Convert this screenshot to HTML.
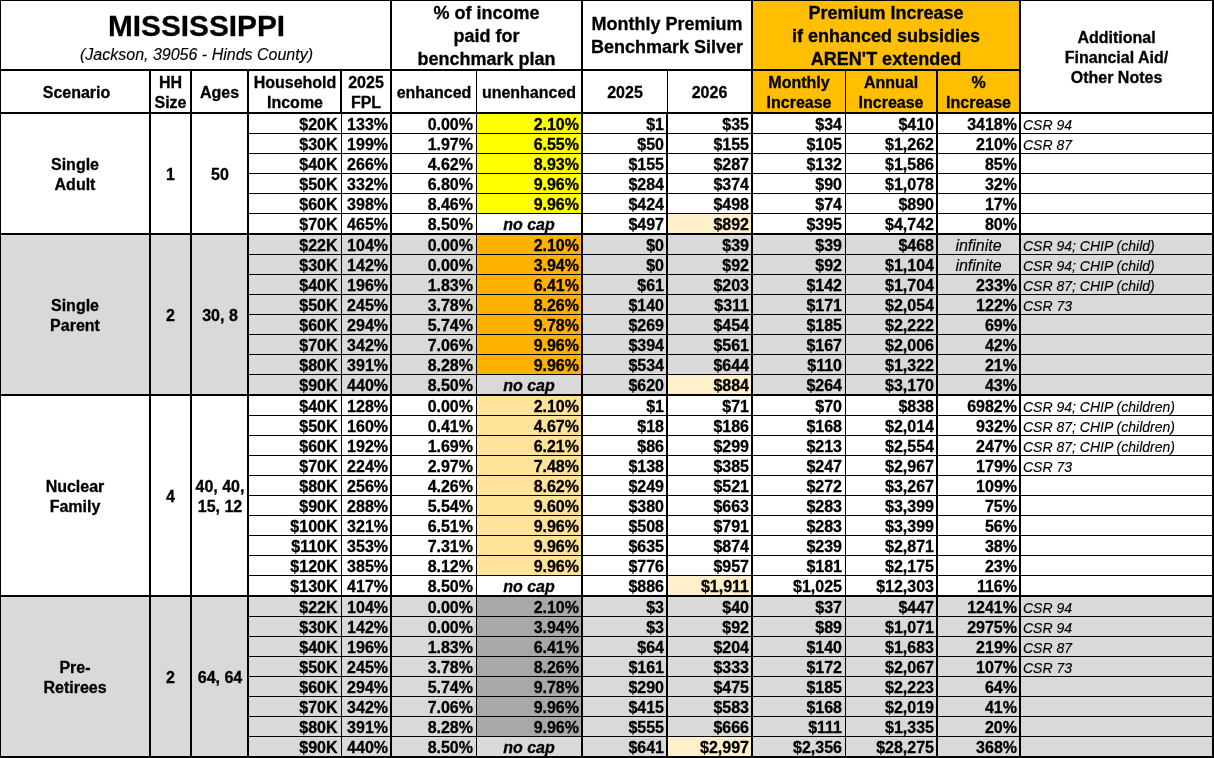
<!DOCTYPE html>
<html><head><meta charset="utf-8"><title>Mississippi</title><style>
html,body{margin:0;padding:0;background:#fff;}
body{width:1214px;height:758px;position:relative;overflow:hidden;font-family:"Liberation Sans",sans-serif;color:#000;}
#w{position:absolute;left:0;top:0;width:1214px;height:758px;will-change:transform;}
#w>div{position:absolute;box-sizing:border-box;}
.ln{background:#000;}
.t{-webkit-text-stroke:0.3px #000;display:flex;flex-direction:column;justify-content:center;font-weight:bold;}
.c{text-align:center;align-items:center;}
.title{font-size:29.8px;line-height:32px;font-weight:bold;}
.sub{-webkit-text-stroke:0.15px #000;font-size:16px;line-height:20px;margin-top:3px;font-style:italic;font-weight:normal;}
.h18{font-size:18px;line-height:23px;}
.h17{font-size:16px;line-height:20px;}
.h16{font-size:16px;line-height:20px;}
.d{font-size:16px;line-height:20px;white-space:nowrap;overflow:visible;}
.num{-webkit-text-stroke:0.3px #000;font-weight:bold;text-align:right;padding-right:2px;}
.nocap{-webkit-text-stroke:0.3px #000;font-weight:bold;font-style:italic;text-align:center;}
.inf{-webkit-text-stroke:0.15px #000;font-style:italic;text-align:center;}
.note{-webkit-text-stroke:0.15px #000;font-style:italic;font-size:14px;padding-left:2px;}
</style></head><body>
<div id="w">
<div style="left:752px;top:0px;width:268px;height:113px;background:#ffbf00"></div>
<div style="left:477px;top:114px;width:105px;height:99px;background:#ffff00"></div>
<div style="left:668px;top:214px;width:84px;height:19px;background:#fff0cb"></div>
<div style="left:0px;top:235px;width:1214px;height:159px;background:#d9d9d9"></div>
<div style="left:477px;top:235px;width:105px;height:139px;background:#ffb100"></div>
<div style="left:668px;top:375px;width:84px;height:19px;background:#fff0cb"></div>
<div style="left:477px;top:396px;width:105px;height:179px;background:#ffe398"></div>
<div style="left:668px;top:576px;width:84px;height:19px;background:#fff0cb"></div>
<div style="left:0px;top:597px;width:1214px;height:159px;background:#d9d9d9"></div>
<div style="left:477px;top:597px;width:105px;height:139px;background:#a8a8a8"></div>
<div style="left:668px;top:737px;width:84px;height:19px;background:#fff0cb"></div>
<div class="t c" style="left:2px;top:1px;width:389px;height:68px;padding-top:5px"><div class="title">MISSISSIPPI</div><div class="sub">(Jackson, 39056 - Hinds County)</div></div>
<div class="t c h18" style="left:392px;top:2px;width:189px;height:67px;padding-top:2px">% of income<br>paid for<br>benchmark plan</div>
<div class="t c h18" style="left:583px;top:2px;width:168px;height:67px;">Monthly Premium<br>Benchmark Silver</div>
<div class="t c h18" style="left:753px;top:2px;width:266px;height:67px;padding-top:2px">Premium Increase<br>if enhanced subsidies<br>AREN'T extended</div>
<div class="t c h16" style="left:1021px;top:2px;width:191px;height:110px;padding-top:2px">Additional<br>Financial Aid/<br>Other Notes</div>
<div class="t c h17" style="left:2px;top:71px;width:149px;height:41px;padding-top:2px">Scenario</div>
<div class="t c h17" style="left:151px;top:71px;width:39px;height:41px;padding-top:2px">HH<br>Size</div>
<div class="t c h17" style="left:192px;top:71px;width:55px;height:41px;padding-top:2px">Ages</div>
<div class="t c h17" style="left:249px;top:71px;width:92px;height:41px;padding-top:2px">Household<br>Income</div>
<div class="t c h17" style="left:342px;top:71px;width:48px;height:41px;padding-top:2px">2025<br>FPL</div>
<div class="t c h17" style="left:392px;top:71px;width:84px;height:41px;padding-top:2px">enhanced</div>
<div class="t c h17" style="left:477px;top:71px;width:104px;height:41px;padding-top:2px">unenhanced</div>
<div class="t c h17" style="left:583px;top:71px;width:84px;height:41px;padding-top:2px">2025</div>
<div class="t c h17" style="left:668px;top:71px;width:83px;height:41px;padding-top:2px">2026</div>
<div class="t c h17" style="left:753px;top:71px;width:92px;height:41px;padding-top:2px">Monthly<br>Increase</div>
<div class="t c h17" style="left:846px;top:71px;width:90px;height:41px;padding-top:2px">Annual<br>Increase</div>
<div class="t c h17" style="left:938px;top:71px;width:81px;height:41px;padding-top:2px">%<br>Increase</div>
<div class="t c h16" style="left:1px;top:114px;width:148px;height:119px;padding-top:2px">Single<br>Adult</div>
<div class="t c h16" style="left:151px;top:114px;width:39px;height:119px;padding-top:2px">1</div>
<div class="t c h16" style="left:192px;top:114px;width:56px;height:119px;padding-top:2px">50</div>
<div class="t c h16" style="left:1px;top:235px;width:148px;height:159px;padding-top:2px">Single<br>Parent</div>
<div class="t c h16" style="left:151px;top:235px;width:39px;height:159px;padding-top:2px">2</div>
<div class="t c h16" style="left:192px;top:235px;width:56px;height:159px;padding-top:2px">30, 8</div>
<div class="t c h16" style="left:1px;top:396px;width:148px;height:199px;padding-top:2px">Nuclear<br>Family</div>
<div class="t c h16" style="left:151px;top:396px;width:39px;height:199px;padding-top:2px">4</div>
<div class="t c h16" style="left:192px;top:396px;width:56px;height:199px;padding-top:2px">40, 40,<br>15, 12</div>
<div class="t c h16" style="left:1px;top:597px;width:148px;height:159px;padding-top:2px">Pre-<br>Retirees</div>
<div class="t c h16" style="left:151px;top:597px;width:39px;height:159px;padding-top:2px">2</div>
<div class="t c h16" style="left:192px;top:597px;width:56px;height:159px;padding-top:2px">64, 64</div>
<div class="d num" style="left:249px;top:115px;width:92px;height:20px;padding-right:3.5px">$20K</div>
<div class="d num" style="left:342px;top:115px;width:48px;height:20px;padding-right:2px">133%</div>
<div class="d num" style="left:392px;top:115px;width:84px;height:20px;padding-right:3px">0.00%</div>
<div class="d num" style="left:477px;top:115px;width:104px;height:20px;padding-right:2px">2.10%</div>
<div class="d num" style="left:583px;top:115px;width:83px;height:20px;padding-right:2px">$1</div>
<div class="d num" style="left:668px;top:115px;width:83px;height:20px;padding-right:2px">$35</div>
<div class="d num" style="left:753px;top:115px;width:92px;height:20px;padding-right:3px">$34</div>
<div class="d num" style="left:846px;top:115px;width:90px;height:20px;padding-right:2px">$410</div>
<div class="d num" style="left:938px;top:115px;width:81px;height:20px;padding-right:2px">3418%</div>
<div class="d note" style="left:1021px;top:115px;width:190px;height:20px;">CSR 94</div>
<div class="d num" style="left:249px;top:135px;width:92px;height:20px;padding-right:3.5px">$30K</div>
<div class="d num" style="left:342px;top:135px;width:48px;height:20px;padding-right:2px">199%</div>
<div class="d num" style="left:392px;top:135px;width:84px;height:20px;padding-right:3px">1.97%</div>
<div class="d num" style="left:477px;top:135px;width:104px;height:20px;padding-right:2px">6.55%</div>
<div class="d num" style="left:583px;top:135px;width:83px;height:20px;padding-right:2px">$50</div>
<div class="d num" style="left:668px;top:135px;width:83px;height:20px;padding-right:2px">$155</div>
<div class="d num" style="left:753px;top:135px;width:92px;height:20px;padding-right:3px">$105</div>
<div class="d num" style="left:846px;top:135px;width:90px;height:20px;padding-right:2px">$1,262</div>
<div class="d num" style="left:938px;top:135px;width:81px;height:20px;padding-right:2px">210%</div>
<div class="d note" style="left:1021px;top:135px;width:190px;height:20px;">CSR 87</div>
<div class="d num" style="left:249px;top:155px;width:92px;height:20px;padding-right:3.5px">$40K</div>
<div class="d num" style="left:342px;top:155px;width:48px;height:20px;padding-right:2px">266%</div>
<div class="d num" style="left:392px;top:155px;width:84px;height:20px;padding-right:3px">4.62%</div>
<div class="d num" style="left:477px;top:155px;width:104px;height:20px;padding-right:2px">8.93%</div>
<div class="d num" style="left:583px;top:155px;width:83px;height:20px;padding-right:2px">$155</div>
<div class="d num" style="left:668px;top:155px;width:83px;height:20px;padding-right:2px">$287</div>
<div class="d num" style="left:753px;top:155px;width:92px;height:20px;padding-right:3px">$132</div>
<div class="d num" style="left:846px;top:155px;width:90px;height:20px;padding-right:2px">$1,586</div>
<div class="d num" style="left:938px;top:155px;width:81px;height:20px;padding-right:2px">85%</div>
<div class="d num" style="left:249px;top:175px;width:92px;height:20px;padding-right:3.5px">$50K</div>
<div class="d num" style="left:342px;top:175px;width:48px;height:20px;padding-right:2px">332%</div>
<div class="d num" style="left:392px;top:175px;width:84px;height:20px;padding-right:3px">6.80%</div>
<div class="d num" style="left:477px;top:175px;width:104px;height:20px;padding-right:2px">9.96%</div>
<div class="d num" style="left:583px;top:175px;width:83px;height:20px;padding-right:2px">$284</div>
<div class="d num" style="left:668px;top:175px;width:83px;height:20px;padding-right:2px">$374</div>
<div class="d num" style="left:753px;top:175px;width:92px;height:20px;padding-right:3px">$90</div>
<div class="d num" style="left:846px;top:175px;width:90px;height:20px;padding-right:2px">$1,078</div>
<div class="d num" style="left:938px;top:175px;width:81px;height:20px;padding-right:2px">32%</div>
<div class="d num" style="left:249px;top:195px;width:92px;height:20px;padding-right:3.5px">$60K</div>
<div class="d num" style="left:342px;top:195px;width:48px;height:20px;padding-right:2px">398%</div>
<div class="d num" style="left:392px;top:195px;width:84px;height:20px;padding-right:3px">8.46%</div>
<div class="d num" style="left:477px;top:195px;width:104px;height:20px;padding-right:2px">9.96%</div>
<div class="d num" style="left:583px;top:195px;width:83px;height:20px;padding-right:2px">$424</div>
<div class="d num" style="left:668px;top:195px;width:83px;height:20px;padding-right:2px">$498</div>
<div class="d num" style="left:753px;top:195px;width:92px;height:20px;padding-right:3px">$74</div>
<div class="d num" style="left:846px;top:195px;width:90px;height:20px;padding-right:2px">$890</div>
<div class="d num" style="left:938px;top:195px;width:81px;height:20px;padding-right:2px">17%</div>
<div class="d num" style="left:249px;top:215px;width:92px;height:20px;padding-right:3.5px">$70K</div>
<div class="d num" style="left:342px;top:215px;width:48px;height:20px;padding-right:2px">465%</div>
<div class="d num" style="left:392px;top:215px;width:84px;height:20px;padding-right:3px">8.50%</div>
<div class="d nocap" style="left:477px;top:215px;width:104px;height:20px;">no cap</div>
<div class="d num" style="left:583px;top:215px;width:83px;height:20px;padding-right:2px">$497</div>
<div class="d num" style="left:668px;top:215px;width:83px;height:20px;padding-right:2px">$892</div>
<div class="d num" style="left:753px;top:215px;width:92px;height:20px;padding-right:3px">$395</div>
<div class="d num" style="left:846px;top:215px;width:90px;height:20px;padding-right:2px">$4,742</div>
<div class="d num" style="left:938px;top:215px;width:81px;height:20px;padding-right:2px">80%</div>
<div class="d num" style="left:249px;top:236px;width:92px;height:20px;padding-right:3.5px">$22K</div>
<div class="d num" style="left:342px;top:236px;width:48px;height:20px;padding-right:2px">104%</div>
<div class="d num" style="left:392px;top:236px;width:84px;height:20px;padding-right:3px">0.00%</div>
<div class="d num" style="left:477px;top:236px;width:104px;height:20px;padding-right:2px">2.10%</div>
<div class="d num" style="left:583px;top:236px;width:83px;height:20px;padding-right:2px">$0</div>
<div class="d num" style="left:668px;top:236px;width:83px;height:20px;padding-right:2px">$39</div>
<div class="d num" style="left:753px;top:236px;width:92px;height:20px;padding-right:3px">$39</div>
<div class="d num" style="left:846px;top:236px;width:90px;height:20px;padding-right:2px">$468</div>
<div class="d inf" style="left:938px;top:236px;width:81px;height:20px;">infinite</div>
<div class="d note" style="left:1021px;top:236px;width:190px;height:20px;">CSR 94; CHIP (child)</div>
<div class="d num" style="left:249px;top:256px;width:92px;height:20px;padding-right:3.5px">$30K</div>
<div class="d num" style="left:342px;top:256px;width:48px;height:20px;padding-right:2px">142%</div>
<div class="d num" style="left:392px;top:256px;width:84px;height:20px;padding-right:3px">0.00%</div>
<div class="d num" style="left:477px;top:256px;width:104px;height:20px;padding-right:2px">3.94%</div>
<div class="d num" style="left:583px;top:256px;width:83px;height:20px;padding-right:2px">$0</div>
<div class="d num" style="left:668px;top:256px;width:83px;height:20px;padding-right:2px">$92</div>
<div class="d num" style="left:753px;top:256px;width:92px;height:20px;padding-right:3px">$92</div>
<div class="d num" style="left:846px;top:256px;width:90px;height:20px;padding-right:2px">$1,104</div>
<div class="d inf" style="left:938px;top:256px;width:81px;height:20px;">infinite</div>
<div class="d note" style="left:1021px;top:256px;width:190px;height:20px;">CSR 94; CHIP (child)</div>
<div class="d num" style="left:249px;top:276px;width:92px;height:20px;padding-right:3.5px">$40K</div>
<div class="d num" style="left:342px;top:276px;width:48px;height:20px;padding-right:2px">196%</div>
<div class="d num" style="left:392px;top:276px;width:84px;height:20px;padding-right:3px">1.83%</div>
<div class="d num" style="left:477px;top:276px;width:104px;height:20px;padding-right:2px">6.41%</div>
<div class="d num" style="left:583px;top:276px;width:83px;height:20px;padding-right:2px">$61</div>
<div class="d num" style="left:668px;top:276px;width:83px;height:20px;padding-right:2px">$203</div>
<div class="d num" style="left:753px;top:276px;width:92px;height:20px;padding-right:3px">$142</div>
<div class="d num" style="left:846px;top:276px;width:90px;height:20px;padding-right:2px">$1,704</div>
<div class="d num" style="left:938px;top:276px;width:81px;height:20px;padding-right:2px">233%</div>
<div class="d note" style="left:1021px;top:276px;width:190px;height:20px;">CSR 87; CHIP (child)</div>
<div class="d num" style="left:249px;top:296px;width:92px;height:20px;padding-right:3.5px">$50K</div>
<div class="d num" style="left:342px;top:296px;width:48px;height:20px;padding-right:2px">245%</div>
<div class="d num" style="left:392px;top:296px;width:84px;height:20px;padding-right:3px">3.78%</div>
<div class="d num" style="left:477px;top:296px;width:104px;height:20px;padding-right:2px">8.26%</div>
<div class="d num" style="left:583px;top:296px;width:83px;height:20px;padding-right:2px">$140</div>
<div class="d num" style="left:668px;top:296px;width:83px;height:20px;padding-right:2px">$311</div>
<div class="d num" style="left:753px;top:296px;width:92px;height:20px;padding-right:3px">$171</div>
<div class="d num" style="left:846px;top:296px;width:90px;height:20px;padding-right:2px">$2,054</div>
<div class="d num" style="left:938px;top:296px;width:81px;height:20px;padding-right:2px">122%</div>
<div class="d note" style="left:1021px;top:296px;width:190px;height:20px;">CSR 73</div>
<div class="d num" style="left:249px;top:316px;width:92px;height:20px;padding-right:3.5px">$60K</div>
<div class="d num" style="left:342px;top:316px;width:48px;height:20px;padding-right:2px">294%</div>
<div class="d num" style="left:392px;top:316px;width:84px;height:20px;padding-right:3px">5.74%</div>
<div class="d num" style="left:477px;top:316px;width:104px;height:20px;padding-right:2px">9.78%</div>
<div class="d num" style="left:583px;top:316px;width:83px;height:20px;padding-right:2px">$269</div>
<div class="d num" style="left:668px;top:316px;width:83px;height:20px;padding-right:2px">$454</div>
<div class="d num" style="left:753px;top:316px;width:92px;height:20px;padding-right:3px">$185</div>
<div class="d num" style="left:846px;top:316px;width:90px;height:20px;padding-right:2px">$2,222</div>
<div class="d num" style="left:938px;top:316px;width:81px;height:20px;padding-right:2px">69%</div>
<div class="d num" style="left:249px;top:336px;width:92px;height:20px;padding-right:3.5px">$70K</div>
<div class="d num" style="left:342px;top:336px;width:48px;height:20px;padding-right:2px">342%</div>
<div class="d num" style="left:392px;top:336px;width:84px;height:20px;padding-right:3px">7.06%</div>
<div class="d num" style="left:477px;top:336px;width:104px;height:20px;padding-right:2px">9.96%</div>
<div class="d num" style="left:583px;top:336px;width:83px;height:20px;padding-right:2px">$394</div>
<div class="d num" style="left:668px;top:336px;width:83px;height:20px;padding-right:2px">$561</div>
<div class="d num" style="left:753px;top:336px;width:92px;height:20px;padding-right:3px">$167</div>
<div class="d num" style="left:846px;top:336px;width:90px;height:20px;padding-right:2px">$2,006</div>
<div class="d num" style="left:938px;top:336px;width:81px;height:20px;padding-right:2px">42%</div>
<div class="d num" style="left:249px;top:356px;width:92px;height:20px;padding-right:3.5px">$80K</div>
<div class="d num" style="left:342px;top:356px;width:48px;height:20px;padding-right:2px">391%</div>
<div class="d num" style="left:392px;top:356px;width:84px;height:20px;padding-right:3px">8.28%</div>
<div class="d num" style="left:477px;top:356px;width:104px;height:20px;padding-right:2px">9.96%</div>
<div class="d num" style="left:583px;top:356px;width:83px;height:20px;padding-right:2px">$534</div>
<div class="d num" style="left:668px;top:356px;width:83px;height:20px;padding-right:2px">$644</div>
<div class="d num" style="left:753px;top:356px;width:92px;height:20px;padding-right:3px">$110</div>
<div class="d num" style="left:846px;top:356px;width:90px;height:20px;padding-right:2px">$1,322</div>
<div class="d num" style="left:938px;top:356px;width:81px;height:20px;padding-right:2px">21%</div>
<div class="d num" style="left:249px;top:376px;width:92px;height:20px;padding-right:3.5px">$90K</div>
<div class="d num" style="left:342px;top:376px;width:48px;height:20px;padding-right:2px">440%</div>
<div class="d num" style="left:392px;top:376px;width:84px;height:20px;padding-right:3px">8.50%</div>
<div class="d nocap" style="left:477px;top:376px;width:104px;height:20px;">no cap</div>
<div class="d num" style="left:583px;top:376px;width:83px;height:20px;padding-right:2px">$620</div>
<div class="d num" style="left:668px;top:376px;width:83px;height:20px;padding-right:2px">$884</div>
<div class="d num" style="left:753px;top:376px;width:92px;height:20px;padding-right:3px">$264</div>
<div class="d num" style="left:846px;top:376px;width:90px;height:20px;padding-right:2px">$3,170</div>
<div class="d num" style="left:938px;top:376px;width:81px;height:20px;padding-right:2px">43%</div>
<div class="d num" style="left:249px;top:397px;width:92px;height:20px;padding-right:3.5px">$40K</div>
<div class="d num" style="left:342px;top:397px;width:48px;height:20px;padding-right:2px">128%</div>
<div class="d num" style="left:392px;top:397px;width:84px;height:20px;padding-right:3px">0.00%</div>
<div class="d num" style="left:477px;top:397px;width:104px;height:20px;padding-right:2px">2.10%</div>
<div class="d num" style="left:583px;top:397px;width:83px;height:20px;padding-right:2px">$1</div>
<div class="d num" style="left:668px;top:397px;width:83px;height:20px;padding-right:2px">$71</div>
<div class="d num" style="left:753px;top:397px;width:92px;height:20px;padding-right:3px">$70</div>
<div class="d num" style="left:846px;top:397px;width:90px;height:20px;padding-right:2px">$838</div>
<div class="d num" style="left:938px;top:397px;width:81px;height:20px;padding-right:2px">6982%</div>
<div class="d note" style="left:1021px;top:397px;width:190px;height:20px;">CSR 94; CHIP (children)</div>
<div class="d num" style="left:249px;top:417px;width:92px;height:20px;padding-right:3.5px">$50K</div>
<div class="d num" style="left:342px;top:417px;width:48px;height:20px;padding-right:2px">160%</div>
<div class="d num" style="left:392px;top:417px;width:84px;height:20px;padding-right:3px">0.41%</div>
<div class="d num" style="left:477px;top:417px;width:104px;height:20px;padding-right:2px">4.67%</div>
<div class="d num" style="left:583px;top:417px;width:83px;height:20px;padding-right:2px">$18</div>
<div class="d num" style="left:668px;top:417px;width:83px;height:20px;padding-right:2px">$186</div>
<div class="d num" style="left:753px;top:417px;width:92px;height:20px;padding-right:3px">$168</div>
<div class="d num" style="left:846px;top:417px;width:90px;height:20px;padding-right:2px">$2,014</div>
<div class="d num" style="left:938px;top:417px;width:81px;height:20px;padding-right:2px">932%</div>
<div class="d note" style="left:1021px;top:417px;width:190px;height:20px;">CSR 87; CHIP (children)</div>
<div class="d num" style="left:249px;top:437px;width:92px;height:20px;padding-right:3.5px">$60K</div>
<div class="d num" style="left:342px;top:437px;width:48px;height:20px;padding-right:2px">192%</div>
<div class="d num" style="left:392px;top:437px;width:84px;height:20px;padding-right:3px">1.69%</div>
<div class="d num" style="left:477px;top:437px;width:104px;height:20px;padding-right:2px">6.21%</div>
<div class="d num" style="left:583px;top:437px;width:83px;height:20px;padding-right:2px">$86</div>
<div class="d num" style="left:668px;top:437px;width:83px;height:20px;padding-right:2px">$299</div>
<div class="d num" style="left:753px;top:437px;width:92px;height:20px;padding-right:3px">$213</div>
<div class="d num" style="left:846px;top:437px;width:90px;height:20px;padding-right:2px">$2,554</div>
<div class="d num" style="left:938px;top:437px;width:81px;height:20px;padding-right:2px">247%</div>
<div class="d note" style="left:1021px;top:437px;width:190px;height:20px;">CSR 87; CHIP (children)</div>
<div class="d num" style="left:249px;top:457px;width:92px;height:20px;padding-right:3.5px">$70K</div>
<div class="d num" style="left:342px;top:457px;width:48px;height:20px;padding-right:2px">224%</div>
<div class="d num" style="left:392px;top:457px;width:84px;height:20px;padding-right:3px">2.97%</div>
<div class="d num" style="left:477px;top:457px;width:104px;height:20px;padding-right:2px">7.48%</div>
<div class="d num" style="left:583px;top:457px;width:83px;height:20px;padding-right:2px">$138</div>
<div class="d num" style="left:668px;top:457px;width:83px;height:20px;padding-right:2px">$385</div>
<div class="d num" style="left:753px;top:457px;width:92px;height:20px;padding-right:3px">$247</div>
<div class="d num" style="left:846px;top:457px;width:90px;height:20px;padding-right:2px">$2,967</div>
<div class="d num" style="left:938px;top:457px;width:81px;height:20px;padding-right:2px">179%</div>
<div class="d note" style="left:1021px;top:457px;width:190px;height:20px;">CSR 73</div>
<div class="d num" style="left:249px;top:477px;width:92px;height:20px;padding-right:3.5px">$80K</div>
<div class="d num" style="left:342px;top:477px;width:48px;height:20px;padding-right:2px">256%</div>
<div class="d num" style="left:392px;top:477px;width:84px;height:20px;padding-right:3px">4.26%</div>
<div class="d num" style="left:477px;top:477px;width:104px;height:20px;padding-right:2px">8.62%</div>
<div class="d num" style="left:583px;top:477px;width:83px;height:20px;padding-right:2px">$249</div>
<div class="d num" style="left:668px;top:477px;width:83px;height:20px;padding-right:2px">$521</div>
<div class="d num" style="left:753px;top:477px;width:92px;height:20px;padding-right:3px">$272</div>
<div class="d num" style="left:846px;top:477px;width:90px;height:20px;padding-right:2px">$3,267</div>
<div class="d num" style="left:938px;top:477px;width:81px;height:20px;padding-right:2px">109%</div>
<div class="d num" style="left:249px;top:497px;width:92px;height:20px;padding-right:3.5px">$90K</div>
<div class="d num" style="left:342px;top:497px;width:48px;height:20px;padding-right:2px">288%</div>
<div class="d num" style="left:392px;top:497px;width:84px;height:20px;padding-right:3px">5.54%</div>
<div class="d num" style="left:477px;top:497px;width:104px;height:20px;padding-right:2px">9.60%</div>
<div class="d num" style="left:583px;top:497px;width:83px;height:20px;padding-right:2px">$380</div>
<div class="d num" style="left:668px;top:497px;width:83px;height:20px;padding-right:2px">$663</div>
<div class="d num" style="left:753px;top:497px;width:92px;height:20px;padding-right:3px">$283</div>
<div class="d num" style="left:846px;top:497px;width:90px;height:20px;padding-right:2px">$3,399</div>
<div class="d num" style="left:938px;top:497px;width:81px;height:20px;padding-right:2px">75%</div>
<div class="d num" style="left:249px;top:517px;width:92px;height:20px;padding-right:3.5px">$100K</div>
<div class="d num" style="left:342px;top:517px;width:48px;height:20px;padding-right:2px">321%</div>
<div class="d num" style="left:392px;top:517px;width:84px;height:20px;padding-right:3px">6.51%</div>
<div class="d num" style="left:477px;top:517px;width:104px;height:20px;padding-right:2px">9.96%</div>
<div class="d num" style="left:583px;top:517px;width:83px;height:20px;padding-right:2px">$508</div>
<div class="d num" style="left:668px;top:517px;width:83px;height:20px;padding-right:2px">$791</div>
<div class="d num" style="left:753px;top:517px;width:92px;height:20px;padding-right:3px">$283</div>
<div class="d num" style="left:846px;top:517px;width:90px;height:20px;padding-right:2px">$3,399</div>
<div class="d num" style="left:938px;top:517px;width:81px;height:20px;padding-right:2px">56%</div>
<div class="d num" style="left:249px;top:537px;width:92px;height:20px;padding-right:3.5px">$110K</div>
<div class="d num" style="left:342px;top:537px;width:48px;height:20px;padding-right:2px">353%</div>
<div class="d num" style="left:392px;top:537px;width:84px;height:20px;padding-right:3px">7.31%</div>
<div class="d num" style="left:477px;top:537px;width:104px;height:20px;padding-right:2px">9.96%</div>
<div class="d num" style="left:583px;top:537px;width:83px;height:20px;padding-right:2px">$635</div>
<div class="d num" style="left:668px;top:537px;width:83px;height:20px;padding-right:2px">$874</div>
<div class="d num" style="left:753px;top:537px;width:92px;height:20px;padding-right:3px">$239</div>
<div class="d num" style="left:846px;top:537px;width:90px;height:20px;padding-right:2px">$2,871</div>
<div class="d num" style="left:938px;top:537px;width:81px;height:20px;padding-right:2px">38%</div>
<div class="d num" style="left:249px;top:557px;width:92px;height:20px;padding-right:3.5px">$120K</div>
<div class="d num" style="left:342px;top:557px;width:48px;height:20px;padding-right:2px">385%</div>
<div class="d num" style="left:392px;top:557px;width:84px;height:20px;padding-right:3px">8.12%</div>
<div class="d num" style="left:477px;top:557px;width:104px;height:20px;padding-right:2px">9.96%</div>
<div class="d num" style="left:583px;top:557px;width:83px;height:20px;padding-right:2px">$776</div>
<div class="d num" style="left:668px;top:557px;width:83px;height:20px;padding-right:2px">$957</div>
<div class="d num" style="left:753px;top:557px;width:92px;height:20px;padding-right:3px">$181</div>
<div class="d num" style="left:846px;top:557px;width:90px;height:20px;padding-right:2px">$2,175</div>
<div class="d num" style="left:938px;top:557px;width:81px;height:20px;padding-right:2px">23%</div>
<div class="d num" style="left:249px;top:577px;width:92px;height:20px;padding-right:3.5px">$130K</div>
<div class="d num" style="left:342px;top:577px;width:48px;height:20px;padding-right:2px">417%</div>
<div class="d num" style="left:392px;top:577px;width:84px;height:20px;padding-right:3px">8.50%</div>
<div class="d nocap" style="left:477px;top:577px;width:104px;height:20px;">no cap</div>
<div class="d num" style="left:583px;top:577px;width:83px;height:20px;padding-right:2px">$886</div>
<div class="d num" style="left:668px;top:577px;width:83px;height:20px;padding-right:2px">$1,911</div>
<div class="d num" style="left:753px;top:577px;width:92px;height:20px;padding-right:3px">$1,025</div>
<div class="d num" style="left:846px;top:577px;width:90px;height:20px;padding-right:2px">$12,303</div>
<div class="d num" style="left:938px;top:577px;width:81px;height:20px;padding-right:2px">116%</div>
<div class="d num" style="left:249px;top:598px;width:92px;height:20px;padding-right:3.5px">$22K</div>
<div class="d num" style="left:342px;top:598px;width:48px;height:20px;padding-right:2px">104%</div>
<div class="d num" style="left:392px;top:598px;width:84px;height:20px;padding-right:3px">0.00%</div>
<div class="d num" style="left:477px;top:598px;width:104px;height:20px;padding-right:2px">2.10%</div>
<div class="d num" style="left:583px;top:598px;width:83px;height:20px;padding-right:2px">$3</div>
<div class="d num" style="left:668px;top:598px;width:83px;height:20px;padding-right:2px">$40</div>
<div class="d num" style="left:753px;top:598px;width:92px;height:20px;padding-right:3px">$37</div>
<div class="d num" style="left:846px;top:598px;width:90px;height:20px;padding-right:2px">$447</div>
<div class="d num" style="left:938px;top:598px;width:81px;height:20px;padding-right:2px">1241%</div>
<div class="d note" style="left:1021px;top:598px;width:190px;height:20px;">CSR 94</div>
<div class="d num" style="left:249px;top:618px;width:92px;height:20px;padding-right:3.5px">$30K</div>
<div class="d num" style="left:342px;top:618px;width:48px;height:20px;padding-right:2px">142%</div>
<div class="d num" style="left:392px;top:618px;width:84px;height:20px;padding-right:3px">0.00%</div>
<div class="d num" style="left:477px;top:618px;width:104px;height:20px;padding-right:2px">3.94%</div>
<div class="d num" style="left:583px;top:618px;width:83px;height:20px;padding-right:2px">$3</div>
<div class="d num" style="left:668px;top:618px;width:83px;height:20px;padding-right:2px">$92</div>
<div class="d num" style="left:753px;top:618px;width:92px;height:20px;padding-right:3px">$89</div>
<div class="d num" style="left:846px;top:618px;width:90px;height:20px;padding-right:2px">$1,071</div>
<div class="d num" style="left:938px;top:618px;width:81px;height:20px;padding-right:2px">2975%</div>
<div class="d note" style="left:1021px;top:618px;width:190px;height:20px;">CSR 94</div>
<div class="d num" style="left:249px;top:638px;width:92px;height:20px;padding-right:3.5px">$40K</div>
<div class="d num" style="left:342px;top:638px;width:48px;height:20px;padding-right:2px">196%</div>
<div class="d num" style="left:392px;top:638px;width:84px;height:20px;padding-right:3px">1.83%</div>
<div class="d num" style="left:477px;top:638px;width:104px;height:20px;padding-right:2px">6.41%</div>
<div class="d num" style="left:583px;top:638px;width:83px;height:20px;padding-right:2px">$64</div>
<div class="d num" style="left:668px;top:638px;width:83px;height:20px;padding-right:2px">$204</div>
<div class="d num" style="left:753px;top:638px;width:92px;height:20px;padding-right:3px">$140</div>
<div class="d num" style="left:846px;top:638px;width:90px;height:20px;padding-right:2px">$1,683</div>
<div class="d num" style="left:938px;top:638px;width:81px;height:20px;padding-right:2px">219%</div>
<div class="d note" style="left:1021px;top:638px;width:190px;height:20px;">CSR 87</div>
<div class="d num" style="left:249px;top:658px;width:92px;height:20px;padding-right:3.5px">$50K</div>
<div class="d num" style="left:342px;top:658px;width:48px;height:20px;padding-right:2px">245%</div>
<div class="d num" style="left:392px;top:658px;width:84px;height:20px;padding-right:3px">3.78%</div>
<div class="d num" style="left:477px;top:658px;width:104px;height:20px;padding-right:2px">8.26%</div>
<div class="d num" style="left:583px;top:658px;width:83px;height:20px;padding-right:2px">$161</div>
<div class="d num" style="left:668px;top:658px;width:83px;height:20px;padding-right:2px">$333</div>
<div class="d num" style="left:753px;top:658px;width:92px;height:20px;padding-right:3px">$172</div>
<div class="d num" style="left:846px;top:658px;width:90px;height:20px;padding-right:2px">$2,067</div>
<div class="d num" style="left:938px;top:658px;width:81px;height:20px;padding-right:2px">107%</div>
<div class="d note" style="left:1021px;top:658px;width:190px;height:20px;">CSR 73</div>
<div class="d num" style="left:249px;top:678px;width:92px;height:20px;padding-right:3.5px">$60K</div>
<div class="d num" style="left:342px;top:678px;width:48px;height:20px;padding-right:2px">294%</div>
<div class="d num" style="left:392px;top:678px;width:84px;height:20px;padding-right:3px">5.74%</div>
<div class="d num" style="left:477px;top:678px;width:104px;height:20px;padding-right:2px">9.78%</div>
<div class="d num" style="left:583px;top:678px;width:83px;height:20px;padding-right:2px">$290</div>
<div class="d num" style="left:668px;top:678px;width:83px;height:20px;padding-right:2px">$475</div>
<div class="d num" style="left:753px;top:678px;width:92px;height:20px;padding-right:3px">$185</div>
<div class="d num" style="left:846px;top:678px;width:90px;height:20px;padding-right:2px">$2,223</div>
<div class="d num" style="left:938px;top:678px;width:81px;height:20px;padding-right:2px">64%</div>
<div class="d num" style="left:249px;top:698px;width:92px;height:20px;padding-right:3.5px">$70K</div>
<div class="d num" style="left:342px;top:698px;width:48px;height:20px;padding-right:2px">342%</div>
<div class="d num" style="left:392px;top:698px;width:84px;height:20px;padding-right:3px">7.06%</div>
<div class="d num" style="left:477px;top:698px;width:104px;height:20px;padding-right:2px">9.96%</div>
<div class="d num" style="left:583px;top:698px;width:83px;height:20px;padding-right:2px">$415</div>
<div class="d num" style="left:668px;top:698px;width:83px;height:20px;padding-right:2px">$583</div>
<div class="d num" style="left:753px;top:698px;width:92px;height:20px;padding-right:3px">$168</div>
<div class="d num" style="left:846px;top:698px;width:90px;height:20px;padding-right:2px">$2,019</div>
<div class="d num" style="left:938px;top:698px;width:81px;height:20px;padding-right:2px">41%</div>
<div class="d num" style="left:249px;top:718px;width:92px;height:20px;padding-right:3.5px">$80K</div>
<div class="d num" style="left:342px;top:718px;width:48px;height:20px;padding-right:2px">391%</div>
<div class="d num" style="left:392px;top:718px;width:84px;height:20px;padding-right:3px">8.28%</div>
<div class="d num" style="left:477px;top:718px;width:104px;height:20px;padding-right:2px">9.96%</div>
<div class="d num" style="left:583px;top:718px;width:83px;height:20px;padding-right:2px">$555</div>
<div class="d num" style="left:668px;top:718px;width:83px;height:20px;padding-right:2px">$666</div>
<div class="d num" style="left:753px;top:718px;width:92px;height:20px;padding-right:3px">$111</div>
<div class="d num" style="left:846px;top:718px;width:90px;height:20px;padding-right:2px">$1,335</div>
<div class="d num" style="left:938px;top:718px;width:81px;height:20px;padding-right:2px">20%</div>
<div class="d num" style="left:249px;top:738px;width:92px;height:20px;padding-right:3.5px">$90K</div>
<div class="d num" style="left:342px;top:738px;width:48px;height:20px;padding-right:2px">440%</div>
<div class="d num" style="left:392px;top:738px;width:84px;height:20px;padding-right:3px">8.50%</div>
<div class="d nocap" style="left:477px;top:738px;width:104px;height:20px;">no cap</div>
<div class="d num" style="left:583px;top:738px;width:83px;height:20px;padding-right:2px">$641</div>
<div class="d num" style="left:668px;top:738px;width:83px;height:20px;padding-right:2px">$2,997</div>
<div class="d num" style="left:753px;top:738px;width:92px;height:20px;padding-right:3px">$2,356</div>
<div class="d num" style="left:846px;top:738px;width:90px;height:20px;padding-right:2px">$28,275</div>
<div class="d num" style="left:938px;top:738px;width:81px;height:20px;padding-right:2px">368%</div>
<div class="ln" style="left:0px;top:0px;width:1214px;height:1px;"></div>
<div class="ln" style="left:0px;top:756px;width:1214px;height:2px;"></div>
<div class="ln" style="left:0px;top:69px;width:1020px;height:2px;"></div>
<div class="ln" style="left:0px;top:112px;width:1214px;height:2px;"></div>
<div class="ln" style="left:248px;top:133px;width:966px;height:1px;"></div>
<div class="ln" style="left:248px;top:153px;width:966px;height:1px;"></div>
<div class="ln" style="left:248px;top:173px;width:966px;height:1px;"></div>
<div class="ln" style="left:248px;top:193px;width:966px;height:1px;"></div>
<div class="ln" style="left:248px;top:213px;width:966px;height:1px;"></div>
<div class="ln" style="left:0px;top:233px;width:1214px;height:2px;"></div>
<div class="ln" style="left:248px;top:254px;width:966px;height:1px;"></div>
<div class="ln" style="left:248px;top:274px;width:966px;height:1px;"></div>
<div class="ln" style="left:248px;top:294px;width:966px;height:1px;"></div>
<div class="ln" style="left:248px;top:314px;width:966px;height:1px;"></div>
<div class="ln" style="left:248px;top:334px;width:966px;height:1px;"></div>
<div class="ln" style="left:248px;top:354px;width:966px;height:1px;"></div>
<div class="ln" style="left:248px;top:374px;width:966px;height:1px;"></div>
<div class="ln" style="left:0px;top:394px;width:1214px;height:2px;"></div>
<div class="ln" style="left:248px;top:415px;width:966px;height:1px;"></div>
<div class="ln" style="left:248px;top:435px;width:966px;height:1px;"></div>
<div class="ln" style="left:248px;top:455px;width:966px;height:1px;"></div>
<div class="ln" style="left:248px;top:475px;width:966px;height:1px;"></div>
<div class="ln" style="left:248px;top:495px;width:966px;height:1px;"></div>
<div class="ln" style="left:248px;top:515px;width:966px;height:1px;"></div>
<div class="ln" style="left:248px;top:535px;width:966px;height:1px;"></div>
<div class="ln" style="left:248px;top:555px;width:966px;height:1px;"></div>
<div class="ln" style="left:248px;top:575px;width:966px;height:1px;"></div>
<div class="ln" style="left:0px;top:595px;width:1214px;height:2px;"></div>
<div class="ln" style="left:248px;top:616px;width:966px;height:1px;"></div>
<div class="ln" style="left:248px;top:636px;width:966px;height:1px;"></div>
<div class="ln" style="left:248px;top:656px;width:966px;height:1px;"></div>
<div class="ln" style="left:248px;top:676px;width:966px;height:1px;"></div>
<div class="ln" style="left:248px;top:696px;width:966px;height:1px;"></div>
<div class="ln" style="left:248px;top:716px;width:966px;height:1px;"></div>
<div class="ln" style="left:248px;top:736px;width:966px;height:1px;"></div>
<div class="ln" style="left:0px;top:0px;width:1px;height:758px;"></div>
<div class="ln" style="left:149px;top:70px;width:2px;height:688px;"></div>
<div class="ln" style="left:190px;top:70px;width:2px;height:688px;"></div>
<div class="ln" style="left:247px;top:70px;width:2px;height:688px;"></div>
<div class="ln" style="left:340px;top:70px;width:2px;height:43px;"></div>
<div class="ln" style="left:341px;top:113px;width:1px;height:645px;"></div>
<div class="ln" style="left:390px;top:0px;width:2px;height:758px;"></div>
<div class="ln" style="left:476px;top:70px;width:1px;height:688px;"></div>
<div class="ln" style="left:581px;top:0px;width:2px;height:758px;"></div>
<div class="ln" style="left:667px;top:70px;width:1px;height:44px;"></div>
<div class="ln" style="left:666px;top:113px;width:2px;height:645px;"></div>
<div class="ln" style="left:751px;top:0px;width:2px;height:758px;"></div>
<div class="ln" style="left:845px;top:70px;width:1px;height:688px;"></div>
<div class="ln" style="left:936px;top:70px;width:2px;height:688px;"></div>
<div class="ln" style="left:1019px;top:0px;width:2px;height:758px;"></div>
<div class="ln" style="left:1212px;top:0px;width:2px;height:758px;"></div>
</div>
</body></html>
